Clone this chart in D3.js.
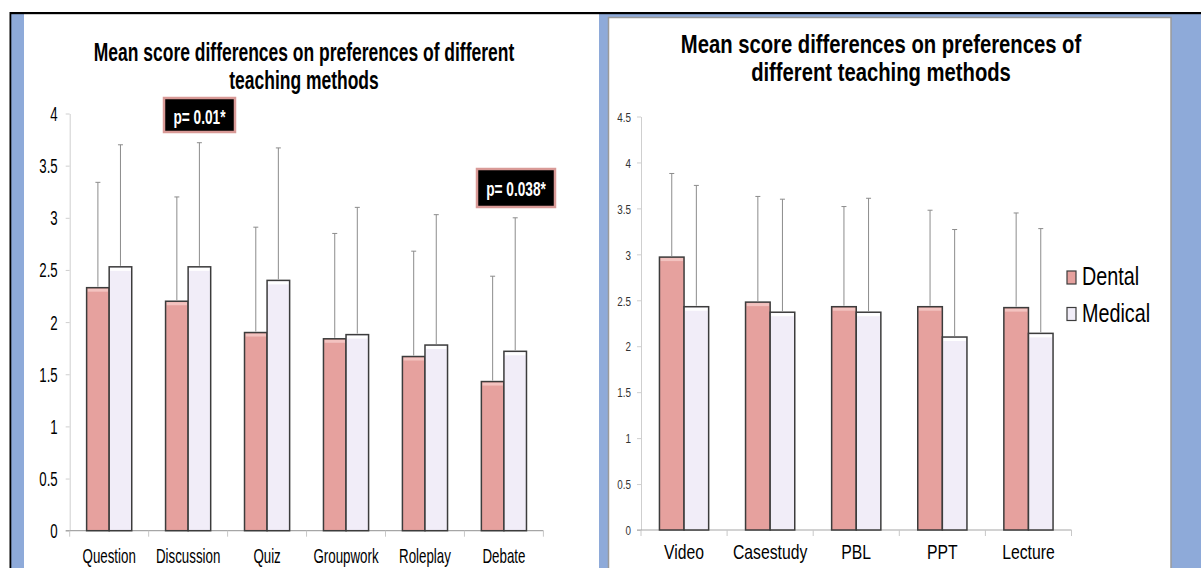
<!DOCTYPE html>
<html><head><meta charset="utf-8">
<script src="https://cdn.jsdelivr.net/npm/d3@7"></script>
<style>html,body{margin:0;padding:0;background:#fff;overflow:hidden}</style>
</head><body>
<svg id="c" width="1201" height="568"></svg>
<script>
// ---------- data ----------
const seriesNames = ["Dental", "Medical"];
const leftTitle = ["Mean score differences on preferences of different", "teaching methods"];
const rightTitle = ["Mean score differences on preferences of", "different teaching methods"];

const leftCategories = ["Question", "Discussion", "Quiz", "Groupwork", "Roleplay", "Debate"];
const leftDental = [2.33, 2.20, 1.90, 1.84, 1.67, 1.43];
const leftMedical = [2.53, 2.53, 2.40, 1.88, 1.78, 1.72];
const leftDentalSD = [1.01, 1.00, 1.01, 1.01, 1.01, 1.01];
const leftMedicalSD = [1.17, 1.19, 1.27, 1.22, 1.25, 1.28];
const leftTicks = [0, 0.5, 1, 1.5, 2, 2.5, 3, 3.5, 4];

const rightCategories = ["Video", "Casestudy", "PBL", "PPT", "Lecture"];
const rightDental = [2.97, 2.48, 2.43, 2.43, 2.42];
const rightMedical = [2.43, 2.37, 2.37, 2.10, 2.14];
const rightDentalSD = [0.91, 1.15, 1.09, 1.05, 1.03];
const rightMedicalSD = [1.32, 1.23, 1.24, 1.17, 1.14];
const rightTicks = [0, 0.5, 1, 1.5, 2, 2.5, 3, 3.5, 4, 4.5];

const pLabels = ["p= 0.01*", "p= 0.038*"];

// ---------- styles ----------
const FONT = "'Liberation Sans', Arial, sans-serif";
const fills = {Dental: "#e6a19e", Medical: "#f1edf8"};
const highlights = {Dental: "#f3c3c0", Medical: "#ffffff"};
const BLUE = "#8eaad9";

const svg = d3.select("#c");

// ---------- frame ----------
svg.append("rect").attr("x", 0).attr("y", 0).attr("width", 1201).attr("height", 568).attr("fill", "#fff");
svg.append("rect").attr("x", 11).attr("y", 13).attr("width", 13).attr("height", 555).attr("fill", BLUE);
svg.append("rect").attr("x", 599).attr("y", 13).attr("width", 602).attr("height", 555).attr("fill", BLUE);
svg.append("rect").attr("x", 608.5).attr("y", 17.5).attr("width", 562.5).attr("height", 560)
  .attr("fill", "#fff").attr("stroke", "#9a9a9a").attr("stroke-width", 1.5);
svg.append("rect").attr("x", 10).attr("y", 12).attr("width", 1191).attr("height", 2.2).attr("fill", "#000");
svg.append("rect").attr("x", 9.5).attr("y", 12).attr("width", 1.8).attr("height", 556).attr("fill", "#000");

function stext(g, x, y, s, o) {
  return g.append("text")
    .attr("transform", `translate(${x},${y}) scale(${o.sx || 1},${o.sy || 1})`)
    .attr("text-anchor", o.anchor || "middle")
    .style("font-family", FONT)
    .style("font-size", o.size + "px")
    .style("font-weight", o.weight || "normal")
    .attr("fill", o.fill || "#000")
    .text(s);
}

function panel(cfg) {
  const g = svg.append("g");
  const x = d3.scaleBand().domain(cfg.categories).range([cfg.x0, cfg.x1]).padding(0);
  const xs = d3.scaleBand().domain(seriesNames).range([0, x.bandwidth()]).paddingInner(0).paddingOuter(0.75);
  const y = d3.scaleLinear().domain([0, cfg.max]).range([cfg.y0, cfg.yTop]);

  // y axis
  const ya = g.append("g").attr("transform", `translate(${cfg.x0},0)`)
    .call(d3.axisLeft(y).tickValues(cfg.ticks).tickSize(cfg.tickLen).tickSizeOuter(0).tickPadding(0)
      .tickFormat(d3.format("")));
  ya.select(".domain").attr("stroke", cfg.yAxisColor);
  ya.selectAll(".tick line").attr("stroke", cfg.yAxisColor);
  ya.selectAll(".tick text")
    .attr("x", null).attr("dy", null)
    .attr("transform", `translate(${-cfg.labelPad},${cfg.tickFont * 0.36 * cfg.tickSy}) scale(${cfg.tickSx},${cfg.tickSy})`)
    .style("font-family", FONT).style("font-size", cfg.tickFont + "px")
    .attr("fill", cfg.tickColor);

  // x axis line and dividers
  g.append("line").attr("x1", cfg.x0 - cfg.tickLen).attr("x2", cfg.x1)
    .attr("y1", y(0)).attr("y2", y(0)).attr("stroke", "#a6a6a6").attr("stroke-width", 1.2);
  const edges = cfg.categories.map(c => x(c)).concat([cfg.x1]);
  g.selectAll(".div").data(edges).enter().append("line")
    .attr("x1", d => d).attr("x2", d => d)
    .attr("y1", y(0)).attr("y2", y(0) + 6).attr("stroke", "#c8c8c8");

  // x labels
  const xa = g.append("g").attr("transform", `translate(0,${y(0)})`)
    .call(d3.axisBottom(x).tickSize(0).tickPadding(0));
  xa.select(".domain").remove();
  xa.selectAll(".tick text")
    .attr("y", null).attr("dy", null)
    .attr("transform", `translate(0,${cfg.xLabelOff}) scale(${cfg.xLabelSx},${cfg.xLabelSy})`)
    .style("font-family", FONT).style("font-size", cfg.xLabelFont + "px").attr("fill", "#000");

  // bars
  const rows = [];
  cfg.categories.forEach((c, i) => {
    rows.push({c, s: "Dental", v: cfg.dental[i], sd: cfg.dentalSD[i]});
    rows.push({c, s: "Medical", v: cfg.medical[i], sd: cfg.medicalSD[i]});
  });
  const bw = xs.bandwidth();
  const bars = g.selectAll(".bar").data(rows).enter().append("g");
  bars.append("rect")
    .attr("x", d => x(d.c) + xs(d.s)).attr("y", d => y(d.v))
    .attr("width", bw).attr("height", d => y(0) - y(d.v))
    .attr("fill", d => fills[d.s]);
  bars.append("rect")
    .attr("x", d => x(d.c) + xs(d.s) + 1).attr("y", d => y(d.v) + 1)
    .attr("width", bw - 2).attr("height", 3)
    .attr("fill", d => highlights[d.s]);
  bars.append("rect")
    .attr("x", d => x(d.c) + xs(d.s)).attr("y", d => y(d.v))
    .attr("width", bw).attr("height", d => y(0) - y(d.v))
    .attr("fill", "none").attr("stroke", "#3c3c3c").attr("stroke-width", 1.5);

  // error bars
  const cx = d => x(d.c) + xs(d.s) + bw / 2;
  bars.append("line")
    .attr("x1", cx).attr("x2", cx)
    .attr("y1", d => y(d.v) - 1).attr("y2", d => y(d.v + d.sd))
    .attr("stroke", "#8c8c8c").attr("stroke-width", 1);
  bars.append("line")
    .attr("x1", d => cx(d) - 2.5).attr("x2", d => cx(d) + 2.5)
    .attr("y1", d => y(d.v + d.sd)).attr("y2", d => y(d.v + d.sd))
    .attr("stroke", "#8c8c8c").attr("stroke-width", 1);

  // title
  cfg.title.forEach((t, i) => {
    stext(g, cfg.titleX, cfg.titleY[i], t, {size: cfg.titleFont, sx: cfg.titleSx, sy: 1.1, weight: "bold"});
  });
  return {g, x, y};
}

const L = panel({
  categories: leftCategories, dental: leftDental, medical: leftMedical,
  dentalSD: leftDentalSD, medicalSD: leftMedicalSD, ticks: leftTicks, max: 4,
  x0: 69.7, x1: 543.4, y0: 530.7, yTop: 113.5,
  tickLen: 4, labelPad: 12, tickFont: 17, tickSx: 0.78, tickSy: 1.15, tickColor: "#000", yAxisColor: "#cfcfcf",
  xLabelOff: 32, xLabelFont: 18, xLabelSx: 0.74, xLabelSy: 1.15,
  title: leftTitle, titleX: 304, titleY: [61, 89], titleFont: 23, titleSx: 0.76
});

const R = panel({
  categories: rightCategories, dental: rightDental, medical: rightMedical,
  dentalSD: rightDentalSD, medicalSD: rightMedicalSD, ticks: rightTicks, max: 4.5,
  x0: 641, x1: 1071.5, y0: 530, yTop: 116.5,
  tickLen: 4, labelPad: 10, tickFont: 12, tickSx: 0.82, tickSy: 1.1, tickColor: "#333", yAxisColor: "#cfcfcf",
  xLabelOff: 29, xLabelFont: 17.5, xLabelSx: 0.9, xLabelSy: 1.12,
  title: rightTitle, titleX: 881, titleY: [53, 81], titleFont: 23, titleSx: 0.88
});

// p-value annotations
const pBoxes = [
  {x: 164, y: 98, w: 71, h: 34, base: 124},
  {x: 477, y: 169, w: 78, h: 38, base: 196}
];
pLabels.forEach((lab, i) => {
  const b = pBoxes[i];
  L.g.append("rect").attr("x", b.x).attr("y", b.y).attr("width", b.w).attr("height", b.h)
    .attr("fill", "#000").attr("stroke", "#d99a97").attr("stroke-width", 2.5);
  stext(L.g, b.x + b.w / 2, b.base, lab, {size: 19, sx: 0.72, sy: 1.1, weight: "bold", fill: "#fff"});
});

// legend
const lg = R.g.append("g");
seriesNames.forEach((s, i) => {
  const yy = 271 + i * 36.5;
  lg.append("rect").attr("x", 1067).attr("y", yy).attr("width", 9).attr("height", 13)
    .attr("fill", fills[s]).attr("stroke", "#3c3c3c").attr("stroke-width", 1.2);
  stext(lg, 1082, yy + 14, s, {size: 23, sx: 0.86, sy: 1.15, anchor: "start"});
});
</script>
</body></html>
